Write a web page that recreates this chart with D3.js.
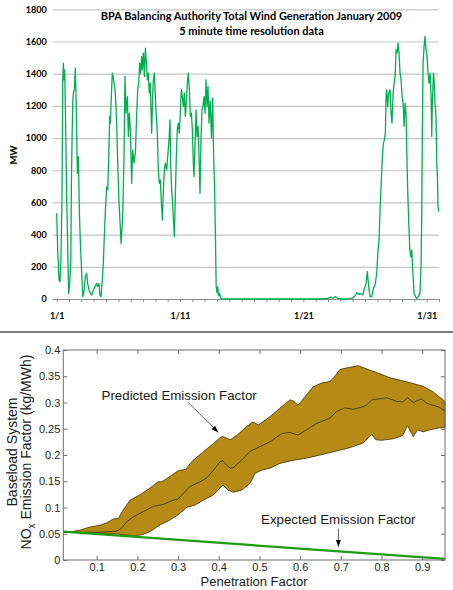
<!DOCTYPE html>
<html>
<head>
<meta charset="utf-8">
<script src="https://cdn.jsdelivr.net/npm/d3@7/dist/d3.min.js"></script>
<style>
  body { margin: 0; background: #fff; }
  svg { display: block; }
</style>
</head>
<body>
<div id="chart"></div>
<script>
// ---- top chart: BPA wind generation, January 2009 (day of month, MW) ----
const windTitle = ['BPA Balancing Authority Total Wind Generation January 2009', '5 minute time resolution data'];
const windTickDays = [1, 11, 21, 31];
const windTickLabels = ['1/1', '1/11', '1/21', '1/31'];
const windMWTicks = [0, 200, 400, 600, 800, 1000, 1200, 1400, 1600, 1800];
const windSeries = [
  [1.00, 533], [1.08, 305], [1.19, 118], [1.27, 108], [1.35, 263], [1.43, 636], [1.49, 1341], [1.54, 1466],
  [1.59, 1362], [1.65, 1424], [1.73, 1051], [1.81, 636], [1.89, 325], [1.97, 35], [2.05, 97], [2.14, 222],
  [2.19, 698], [2.24, 968], [2.30, 1217], [2.35, 1279], [2.43, 1300], [2.51, 1434], [2.57, 1258], [2.62, 1030],
  [2.68, 781], [2.76, 885], [2.84, 533], [2.92, 346], [3.03, 160], [3.11, 15], [3.22, 46], [3.32, 139],
  [3.43, 160], [3.51, 97], [3.62, 56], [3.73, 35], [3.84, 25], [3.97, 56], [4.11, 77], [4.24, 97],
  [4.32, 77], [4.43, 97], [4.51, 25], [4.59, 15], [4.70, 118], [4.78, 222], [4.86, 388], [4.95, 553],
  [5.05, 698], [5.14, 678], [5.22, 885], [5.30, 1134], [5.35, 1093], [5.43, 1258], [5.51, 1403], [5.57, 1383],
  [5.65, 1341], [5.73, 1300], [5.81, 1196], [5.86, 1093], [5.95, 844], [6.03, 636], [6.14, 471], [6.22, 346],
  [6.35, 512], [6.46, 885], [6.54, 1383], [6.62, 1155], [6.73, 1258], [6.81, 1010], [6.89, 1155], [6.97, 1051],
  [7.08, 719], [7.16, 927], [7.27, 844], [7.38, 906], [7.49, 1155], [7.57, 1300], [7.65, 1341], [7.73, 1466],
  [7.81, 1403], [7.89, 1507], [7.94, 1424], [8.03, 1528], [8.11, 1383], [8.19, 1559], [8.27, 1466], [8.35, 1362],
  [8.43, 1403], [8.51, 1279], [8.59, 1341], [8.70, 1030], [8.78, 1258], [8.84, 1362], [8.92, 1403], [9.00, 1258],
  [9.08, 1134], [9.16, 1030], [9.24, 802], [9.32, 719], [9.40, 740], [9.49, 595], [9.57, 491], [9.65, 678],
  [9.73, 802], [9.81, 844], [9.92, 802], [10.00, 885], [10.11, 989], [10.19, 1113], [10.24, 844], [10.32, 678],
  [10.40, 595], [10.49, 450], [10.54, 388], [10.62, 636], [10.70, 885], [10.78, 1051], [10.86, 1093], [10.94, 1030],
  [11.03, 1175], [11.11, 1300], [11.19, 1258], [11.27, 1196], [11.35, 1279], [11.43, 1134], [11.51, 1217], [11.59, 1341],
  [11.67, 1403], [11.76, 1300], [11.84, 1134], [11.92, 1155], [12.00, 1051], [12.08, 844], [12.13, 761], [12.22, 968],
  [12.30, 1175], [12.38, 1010], [12.46, 1072], [12.54, 885], [12.62, 657], [12.70, 989], [12.78, 1175], [12.86, 1196],
  [12.95, 1258], [13.03, 1155], [13.11, 1362], [13.19, 1196], [13.27, 1320], [13.35, 1093], [13.45, 1230], [13.55, 1000],
  [13.65, 1250], [13.72, 900], [13.80, 700], [13.87, 400], [13.93, 80], [14.00, 40], [14.06, 75], [14.12, 20],
  [14.20, 35], [14.30, 5], [14.50, 0], [16.00, 0], [18.00, 0], [20.00, 0], [22.00, 0], [23.00, 3],
  [23.20, 12], [23.40, 5], [23.60, 15], [23.80, 3], [24.20, 0], [24.60, 2], [25.00, 5], [25.20, 20],
  [25.35, 40], [25.50, 30], [25.60, 35], [25.82, 25], [25.92, 56], [26.09, 97], [26.19, 170], [26.30, 77],
  [26.41, 15], [26.55, 15], [26.68, 66], [26.82, 87], [26.95, 160], [27.06, 305], [27.14, 367], [27.22, 553],
  [27.30, 698], [27.36, 802], [27.41, 885], [27.49, 968], [27.57, 989], [27.65, 1030], [27.71, 1258], [27.76, 1300],
  [27.84, 1196], [27.92, 1279], [28.03, 1300], [28.11, 1155], [28.19, 1093], [28.28, 1279], [28.36, 1341], [28.44, 1383],
  [28.52, 1549], [28.60, 1528], [28.68, 1590], [28.76, 1528], [28.84, 1403], [28.92, 1362], [29.01, 1258], [29.09, 1217],
  [29.17, 1072], [29.25, 1217], [29.33, 1155], [29.38, 947], [29.46, 678], [29.55, 471], [29.63, 305], [29.71, 263],
  [29.79, 305], [29.87, 180], [29.98, 35], [30.09, 15], [30.19, 4], [30.33, 15], [30.46, 35], [30.55, 222],
  [30.60, 533], [30.65, 1051], [30.71, 1466], [30.79, 1569], [30.87, 1632], [30.95, 1549], [31.03, 1507], [31.11, 1403],
  [31.19, 1341], [31.28, 1403], [31.36, 1258], [31.41, 1010], [31.46, 1217], [31.55, 1403], [31.60, 1362], [31.68, 1217],
  [31.76, 1134], [31.82, 844], [31.87, 761], [31.92, 574], [31.98, 543]
];

// ---- bottom chart: NOx emission factor vs penetration factor ----
const penTicks = [0.1, 0.2, 0.3, 0.4, 0.5, 0.6, 0.7, 0.8, 0.9];
const emisTicks = [0, 0.05, 0.1, 0.15, 0.2, 0.25, 0.3, 0.35, 0.4];
const predictedUpper = [
  [0.018, 0.053], [0.04, 0.054], [0.059, 0.057], [0.084, 0.063], [0.108, 0.066], [0.125, 0.071], [0.141, 0.078],
  [0.153, 0.079], [0.165, 0.095], [0.182, 0.114], [0.206, 0.124], [0.231, 0.137], [0.251, 0.149], [0.26, 0.149],
  [0.28, 0.159], [0.30, 0.170], [0.319, 0.173], [0.337, 0.190], [0.362, 0.206], [0.387, 0.222], [0.407, 0.235],
  [0.415, 0.234], [0.428, 0.229], [0.444, 0.237], [0.464, 0.251], [0.481, 0.262], [0.49, 0.261], [0.497, 0.257],
  [0.526, 0.273], [0.550, 0.289], [0.575, 0.305], [0.583, 0.303], [0.595, 0.295], [0.612, 0.311], [0.632, 0.330],
  [0.653, 0.337], [0.673, 0.340], [0.680, 0.345], [0.698, 0.363], [0.722, 0.367], [0.743, 0.370], [0.767, 0.363],
  [0.792, 0.356], [0.821, 0.347], [0.849, 0.342], [0.878, 0.336], [0.902, 0.331], [0.927, 0.320], [0.956, 0.302]
];
const predictedMean = [
  [0.018, 0.053], [0.108, 0.053], [0.149, 0.055], [0.161, 0.060], [0.174, 0.073], [0.190, 0.082], [0.214, 0.092],
  [0.239, 0.102], [0.264, 0.106], [0.288, 0.114], [0.30, 0.116], [0.313, 0.127], [0.329, 0.140], [0.354, 0.149],
  [0.370, 0.156], [0.387, 0.171], [0.403, 0.187], [0.41, 0.189], [0.419, 0.181], [0.428, 0.175], [0.436, 0.176],
  [0.456, 0.190], [0.477, 0.207], [0.501, 0.216], [0.526, 0.225], [0.555, 0.241], [0.575, 0.243], [0.595, 0.238],
  [0.616, 0.248], [0.640, 0.260], [0.673, 0.270], [0.690, 0.283], [0.710, 0.290], [0.730, 0.287], [0.751, 0.291],
  [0.763, 0.295], [0.776, 0.305], [0.813, 0.309], [0.837, 0.302], [0.853, 0.301], [0.864, 0.309], [0.878, 0.300],
  [0.897, 0.307], [0.913, 0.298], [0.939, 0.292], [0.956, 0.284]
];
const predictedLower = [
  [0.018, 0.053], [0.108, 0.051], [0.157, 0.049], [0.190, 0.046], [0.211, 0.048], [0.231, 0.054], [0.256, 0.067],
  [0.280, 0.076], [0.300, 0.086], [0.321, 0.100], [0.342, 0.105], [0.362, 0.114], [0.387, 0.124], [0.403, 0.137],
  [0.41, 0.143], [0.423, 0.133], [0.436, 0.129], [0.456, 0.133], [0.477, 0.146], [0.489, 0.165], [0.505, 0.171],
  [0.526, 0.175], [0.550, 0.184], [0.583, 0.190], [0.616, 0.194], [0.649, 0.200], [0.681, 0.206], [0.722, 0.214],
  [0.755, 0.223], [0.776, 0.239], [0.786, 0.229], [0.800, 0.228], [0.829, 0.231], [0.852, 0.237], [0.864, 0.256],
  [0.878, 0.235], [0.889, 0.248], [0.902, 0.244], [0.919, 0.248], [0.943, 0.252], [0.956, 0.252]
];
const expectedLine = [[0.018, 0.054], [0.956, 0.002]];

const width = 453;
const height = 590;

const svg = d3.select('#chart')
  .append('svg')
  .attr('width', width)
  .attr('height', height);

svg.append('defs').append('marker')
  .attr('id', 'arrow')
  .attr('markerUnits', 'userSpaceOnUse')
  .attr('viewBox', '0 0 10 10')
  .attr('refX', 10)
  .attr('refY', 5)
  .attr('markerWidth', 7)
  .attr('markerHeight', 7)
  .attr('orient', 'auto')
  .append('path')
  .attr('d', 'M0,1.5 L10,5 L0,8.5 Z')
  .attr('fill', '#000');

// ================= top chart =================
const topFont = 'Lato, "Open Sans", sans-serif';
const x = d3.scaleLinear().domain([1, 32]).range([56.7, 439]);
const y = d3.scaleLinear().domain([0, 1800]).range([299, 9.3]);

const topG = svg.append('g');

// gridlines + y labels
const yAxis = topG.append('g')
  .attr('transform', 'translate(52.7,0)')
  .call(d3.axisLeft(y).tickValues(windMWTicks).tickSize(-(439 - 52.7)).tickPadding(6)
    .tickFormat(d3.format('d')));
yAxis.select('.domain').remove();
yAxis.selectAll('line').attr('stroke', '#c4c4c4').attr('stroke-width', 1.2);
yAxis.selectAll('text')
  .attr('font-family', topFont).attr('font-weight', 'bold').attr('font-size', 9).attr('fill', '#000');

// x axis with daily ticks
const xAxis = topG.append('g')
  .attr('transform', 'translate(0,299)')
  .call(d3.axisBottom(x).tickValues(d3.range(1, 33)).tickSize(3).tickPadding(11)
    .tickFormat(d => {
      const i = windTickDays.indexOf(d);
      return i >= 0 ? windTickLabels[i] : '';
    }));
xAxis.select('.domain').attr('stroke', '#8c8c8c').attr('stroke-width', 1.2)
  .attr('d', `M52.7,0.5H439`);
xAxis.selectAll('line').attr('stroke', '#8c8c8c');
xAxis.selectAll('text')
  .attr('font-family', topFont).attr('font-weight', 'bold').attr('font-size', 9).attr('fill', '#000');

topG.append('path')
  .datum(windSeries)
  .attr('fill', 'none')
  .attr('stroke', '#00b050')
  .attr('stroke-width', 1.3)
  .attr('stroke-linejoin', 'round')
  .attr('d', d3.line().x(d => x(d[0])).y(d => y(d[1])));

topG.selectAll('text.title')
  .data(windTitle)
  .enter()
  .append('text')
  .attr('class', 'title')
  .attr('x', 251.5)
  .attr('y', (d, i) => 20 + i * 15)
  .attr('text-anchor', 'middle')
  .attr('font-family', topFont)
  .attr('font-weight', 'bold')
  .attr('font-size', 11)
  .text(d => d);

topG.append('text')
  .attr('transform', 'translate(17,155) rotate(-90)')
  .attr('text-anchor', 'middle')
  .attr('font-family', topFont)
  .attr('font-weight', 'bold')
  .attr('font-size', 9.5)
  .text('MW');

// separator between the two panels
svg.append('rect')
  .attr('x', 0).attr('y', 331)
  .attr('width', width).attr('height', 2)
  .attr('fill', '#808080');

// ================= bottom chart =================
const botFont = '"Liberation Sans", Arial, sans-serif';
const xb = d3.scaleLinear().domain([0.018, 0.956]).range([63.3, 445]);
const yb = d3.scaleLinear().domain([0, 0.4]).range([560, 350]);
const botG = svg.append('g');

const lineB = d3.line().x(d => xb(d[0])).y(d => yb(d[1]));

botG.append('path')
  .datum(predictedUpper.concat(predictedLower.slice().reverse()))
  .attr('fill', '#b58a16')
  .attr('stroke', '#3d3000')
  .attr('stroke-width', 0.8)
  .attr('stroke-linejoin', 'round')
  .attr('d', d => lineB(d) + 'Z');

botG.append('path')
  .datum(predictedMean)
  .attr('fill', 'none')
  .attr('stroke', '#3d3000')
  .attr('stroke-width', 0.8)
  .attr('d', lineB);

botG.append('path')
  .datum(expectedLine)
  .attr('fill', 'none')
  .attr('stroke', '#1f9c12')
  .attr('stroke-width', 2.2)
  .attr('d', lineB);

// frame and inward ticks on all four sides
botG.append('rect')
  .attr('x', 63.3).attr('y', 350)
  .attr('width', 445 - 63.3).attr('height', 210)
  .attr('fill', 'none')
  .attr('stroke', '#6e6e6e');

const axB = botG.append('g').attr('transform', 'translate(0,560)')
  .call(d3.axisBottom(xb).tickValues(penTicks).tickSizeInner(-4).tickSizeOuter(0).tickPadding(3)
    .tickFormat(d => String(+d.toFixed(2))));
const axT = botG.append('g').attr('transform', 'translate(0,350)')
  .call(d3.axisTop(xb).tickValues(penTicks).tickSizeInner(-4).tickSizeOuter(0).tickFormat(''));
const axL = botG.append('g').attr('transform', 'translate(63.3,0)')
  .call(d3.axisLeft(yb).tickValues(emisTicks).tickSizeInner(-4).tickSizeOuter(0).tickPadding(3)
    .tickFormat(d => String(+d.toFixed(2))));
const axR = botG.append('g').attr('transform', 'translate(445,0)')
  .call(d3.axisRight(yb).tickValues(emisTicks).tickSizeInner(-4).tickSizeOuter(0).tickFormat(''));

[axB, axT, axL, axR].forEach(a => {
  a.select('.domain').remove();
  a.selectAll('line').attr('stroke', '#6e6e6e');
  a.selectAll('text').attr('font-family', botFont).attr('font-size', 11).attr('fill', '#262626');
});

botG.append('text')
  .attr('x', 254)
  .attr('y', 586)
  .attr('text-anchor', 'middle')
  .attr('font-family', botFont)
  .attr('font-size', 13)
  .attr('fill', '#1a1a1a')
  .text('Penetration Factor');

const yLab = botG.append('text')
  .attr('transform', 'translate(0,452) rotate(-90)')
  .attr('text-anchor', 'middle')
  .attr('font-family', botFont)
  .attr('font-size', 14)
  .attr('fill', '#1a1a1a');
yLab.append('tspan').attr('x', 0).attr('y', 17).text('Baseload System');
const l2 = yLab.append('tspan').attr('x', 0).attr('y', 30.5);
l2.append('tspan').text('NO');
l2.append('tspan').attr('font-size', 10).attr('dy', 4).text('x');
l2.append('tspan').attr('dy', -4).text(' Emission Factor (kg/MWh)');

// annotations
botG.append('text')
  .attr('x', xb(0.112))
  .attr('y', yb(0.305))
  .attr('font-family', botFont)
  .attr('font-size', 13.3)
  .attr('fill', '#1a1a1a')
  .text('Predicted Emission Factor');
botG.append('line')
  .attr('x1', xb(0.325)).attr('y1', yb(0.300))
  .attr('x2', xb(0.399)).attr('y2', yb(0.243))
  .attr('stroke', '#333').attr('stroke-width', 0.8)
  .attr('marker-end', 'url(#arrow)');

botG.append('text')
  .attr('x', xb(0.504))
  .attr('y', yb(0.068))
  .attr('font-family', botFont)
  .attr('font-size', 13.3)
  .attr('fill', '#1a1a1a')
  .text('Expected Emission Factor');
botG.append('line')
  .attr('x1', xb(0.694)).attr('y1', yb(0.060))
  .attr('x2', xb(0.694)).attr('y2', yb(0.025))
  .attr('stroke', '#333').attr('stroke-width', 0.8)
  .attr('marker-end', 'url(#arrow)');
</script>
</body>
</html>
